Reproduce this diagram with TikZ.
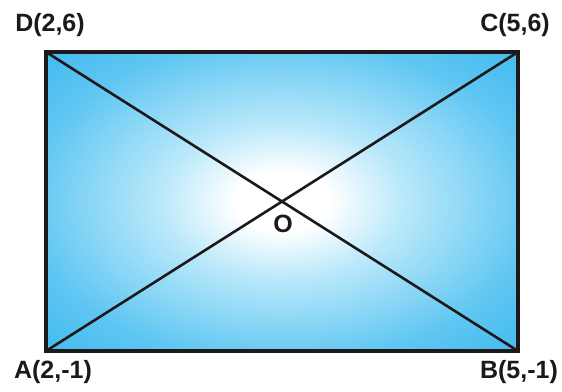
\documentclass[tikz,border=0pt]{standalone}
\usepackage{fontspec}
\setmainfont{Liberation Sans}
\definecolor{s1}{RGB}{185,232,250}
\definecolor{s2}{RGB}{95,198,242}
\definecolor{s3}{RGB}{45,178,238}
\definecolor{s4}{RGB}{20,165,232}
\definecolor{s5}{RGB}{0,150,222}
\definecolor{linec}{RGB}{30,25,25}
\pgfdeclareradialshading{rectglow}{\pgfpoint{0bp}{0bp}}{color(0bp)=(white); color(5bp)=(white); color(13bp)=(s1); color(27bp)=(s2); color(42bp)=(s3); color(50bp)=(s4); color(71bp)=(s5)}
\tikzset{
  lbl/.style={font=\fontsize{25}{27}\selectfont\bfseries, text=linec, inner sep=0pt},
  edge/.style={draw=linec, line width=3.2pt},
  diag/.style={draw=linec, line width=2.6pt}
}
\begin{document}
\begin{tikzpicture}[x=1pt,y=-1pt]
\useasboundingbox (0,0) rectangle (562,391);
\coordinate (A) at (46,351);
\coordinate (B) at (518,351);
\coordinate (C) at (518,52);
\coordinate (D) at (46,52);
\shade[shading=rectglow] (A) rectangle (C);
\draw[diag] (A) -- (C);
\draw[diag] (D) -- (B);
\draw[edge, line join=miter] (A) -- (B) -- (C) -- (D) -- cycle;
\node[lbl] (la) at (53,372) {A(2,-1)};
\node[lbl] (lb) at (519,372) {B(5,-1)};
\node[lbl] (lc) at (515,25) {C(5,6)};
\node[lbl] (ld) at (50,25) {D(2,6)};
\node[lbl] (lo) at (283,224) {O};
\end{tikzpicture}
\end{document}
